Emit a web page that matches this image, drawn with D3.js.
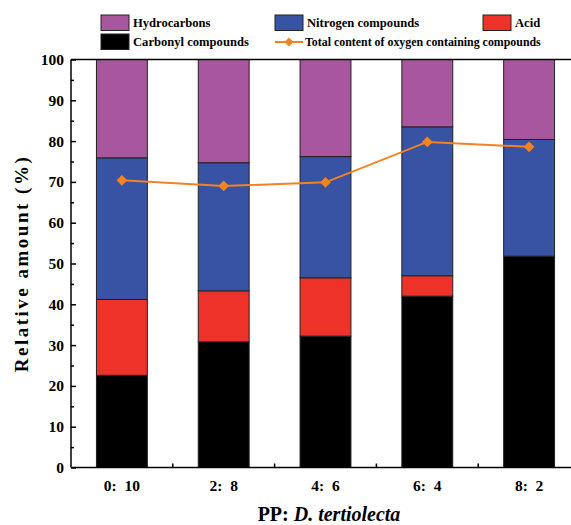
<!DOCTYPE html>
<html>
<head>
<meta charset="utf-8">
<script src="https://d3js.org/d3.v7.min.js"></script>
<style>
  body { margin: 0; background: #fff; }
  text { font-family: "Liberation Serif", "Times New Roman", serif; font-weight: bold; fill: #000; }
  .axis path, .axis line { stroke: #000; stroke-width: 1.5px; }
</style>
</head>
<body>
<script>
// ratios PP : D. tertiolecta
let categories = ["0:\u00A0\u00A010", "2:\u00A0\u00A08", "4:\u00A0\u00A06", "6:\u00A0\u00A04", "8:\u00A0\u00A02"];
let seriesNames = ["Carbonyl compounds", "Acid", "Nitrogen compounds", "Hydrocarbons"];
let carbonyl = [22.6, 30.8, 32.2, 42.0, 51.8];
let acid = [18.6, 12.5, 14.3, 5.0, 0];
let nitrogen = [34.7, 31.4, 29.7, 36.5, 28.6];
let hydrocarbons = [24.1, 25.3, 23.8, 16.5, 19.6];
let oxygenTotal = [70.4, 69.0, 69.9, 79.8, 78.6];
let yTicks = [0, 10, 20, 30, 40, 50, 60, 70, 80, 90, 100];

let colors = {
  "Carbonyl compounds": "#000000",
  "Acid": "#ee3229",
  "Nitrogen compounds": "#3853a4",
  "Hydrocarbons": "#a8579f"
};
let lineColor = "#f58220";

let svgwidth = 571, svgheight = 525;
let margin = { top: 59.5, left: 71, bottom: 57.5 };
let plotRight = 580;
let height = svgheight - margin.top - margin.bottom;

let svg = d3.select("body").append("svg")
  .attr("width", svgwidth)
  .attr("height", svgheight);

let x = d3.scaleBand().domain(categories).range([margin.left, plotRight]).paddingInner(0.5).paddingOuter(0.25);
let y = d3.scaleLinear().domain([0, 100]).range([margin.top + height, margin.top]);

let table = categories.map(function (c, i) {
  return {
    cat: c,
    "Carbonyl compounds": carbonyl[i],
    "Acid": acid[i],
    "Nitrogen compounds": nitrogen[i],
    "Hydrocarbons": hydrocarbons[i]
  };
});
let stacked = d3.stack().keys(seriesNames)(table);

// bars
svg.append("g").selectAll("g")
  .data(stacked)
  .enter().append("g")
  .attr("fill", function (d) { return colors[d.key]; })
  .selectAll("rect")
  .data(function (d) { return d; })
  .enter().append("rect")
  .filter(function (d) { return d[1] - d[0] > 0; })
  .attr("x", function (d) { return x(d.data.cat); })
  .attr("width", x.bandwidth())
  .attr("y", function (d) { return y(d[1]); })
  .attr("height", function (d) { return y(d[0]) - y(d[1]); })
  .attr("stroke", "#222")
  .attr("stroke-width", 1);

// top frame line
svg.append("line")
  .attr("x1", margin.left).attr("x2", svgwidth)
  .attr("y1", y(100)).attr("y2", y(100))
  .attr("stroke", "#000").attr("stroke-width", 1.5);

// y axis, ticks inward, minor ticks at 5s
let yAxis = svg.append("g")
  .attr("class", "axis")
  .attr("transform", "translate(" + margin.left + ",0)")
  .call(d3.axisRight(y).tickValues(yTicks).tickSize(5).tickFormat(""));
yAxis.select(".domain").remove();
svg.append("line")
  .attr("x1", margin.left).attr("x2", margin.left)
  .attr("y1", y(0)).attr("y2", y(100))
  .attr("stroke", "#000").attr("stroke-width", 1.5);
svg.append("g")
  .attr("class", "axis")
  .attr("transform", "translate(" + margin.left + ",0)")
  .call(d3.axisRight(y).tickValues(yTicks.slice(1).map(function (v) { return v - 5; })).tickSize(3).tickFormat(""))
  .select(".domain").remove();
svg.append("g").selectAll("text")
  .data(yTicks)
  .enter().append("text")
  .attr("x", margin.left - 7)
  .attr("y", function (d) { return y(d); })
  .attr("dy", "0.35em")
  .attr("text-anchor", "end")
  .attr("font-size", 15.5)
  .text(function (d) { return d; });

// x axis
let xAxisG = svg.append("g")
  .attr("class", "axis")
  .attr("transform", "translate(0," + y(0) + ")");
xAxisG.append("line")
  .attr("x1", margin.left).attr("x2", svgwidth)
  .attr("stroke", "#000").attr("stroke-width", 1.5);
let step = x.step();
xAxisG.selectAll(".xtick")
  .data(categories.slice(0, categories.length - 1))
  .enter().append("line")
  .attr("class", "xtick")
  .attr("x1", function (d) { return x(d) + x.bandwidth() + (step - x.bandwidth()) / 2; })
  .attr("x2", function (d) { return x(d) + x.bandwidth() + (step - x.bandwidth()) / 2; })
  .attr("y1", 0).attr("y2", -4)
  .attr("stroke", "#000").attr("stroke-width", 1.5);
xAxisG.selectAll(".xlab")
  .data(categories)
  .enter().append("text")
  .attr("class", "xlab")
  .attr("x", function (d) { return x(d) + x.bandwidth() / 2; })
  .attr("y", 23)
  .attr("text-anchor", "middle")
  .attr("font-size", 15.5)
  .text(function (d) { return d; });

// oxygen line
let line = d3.line()
  .x(function (d, i) { return x(categories[i]) + x.bandwidth() / 2; })
  .y(function (d) { return y(d); });
svg.append("path")
  .datum(oxygenTotal)
  .attr("fill", "none")
  .attr("stroke", lineColor)
  .attr("stroke-width", 2)
  .attr("d", line);
svg.append("g").selectAll("path")
  .data(oxygenTotal)
  .enter().append("path")
  .attr("d", d3.symbol().type(d3.symbolSquare).size(58))
  .attr("transform", function (d, i) {
    return "translate(" + (x(categories[i]) + x.bandwidth() / 2) + "," + y(d) + ") rotate(45)";
  })
  .attr("fill", lineColor);

// axis titles
svg.append("text")
  .attr("transform", "translate(28," + (margin.top + height / 2) + ") rotate(-90)")
  .attr("text-anchor", "middle")
  .attr("font-size", 19)
  .attr("letter-spacing", 2.5)
  .text("Relative amount (%)");

let xTitle = svg.append("text")
  .attr("x", 329)
  .attr("y", 521)
  .attr("text-anchor", "middle")
  .attr("font-size", 20);
xTitle.append("tspan").text("PP: ");
xTitle.append("tspan").attr("font-style", "italic").text("D. tertiolecta");

// legend
let legendItems = [
  { name: "Hydrocarbons", x: 101, y: 15 },
  { name: "Nitrogen compounds", x: 275, y: 15 },
  { name: "Acid", x: 483, y: 15 },
  { name: "Carbonyl compounds", x: 101, y: 34 }
];
let legend = svg.append("g");
legendItems.forEach(function (d) {
  legend.append("rect")
    .attr("x", d.x).attr("y", d.y)
    .attr("width", 28).attr("height", 15.5)
    .attr("fill", colors[d.name])
    .attr("stroke", "#222").attr("stroke-width", 1);
  legend.append("text")
    .attr("x", d.x + 32).attr("y", d.y + 8)
    .attr("dy", "0.35em")
    .attr("font-size", 12.6)
    .text(d.name);
});
legend.append("line")
  .attr("x1", 275).attr("x2", 303)
  .attr("y1", 42).attr("y2", 42)
  .attr("stroke", lineColor).attr("stroke-width", 2);
legend.append("path")
  .attr("d", d3.symbol().type(d3.symbolSquare).size(40))
  .attr("transform", "translate(289,42) rotate(45)")
  .attr("fill", lineColor);
legend.append("text")
  .attr("x", 305).attr("y", 42)
  .attr("dy", "0.35em")
  .attr("font-size", 11.9)
  .text("Total content of oxygen containing compounds");
</script>
</body>
</html>
